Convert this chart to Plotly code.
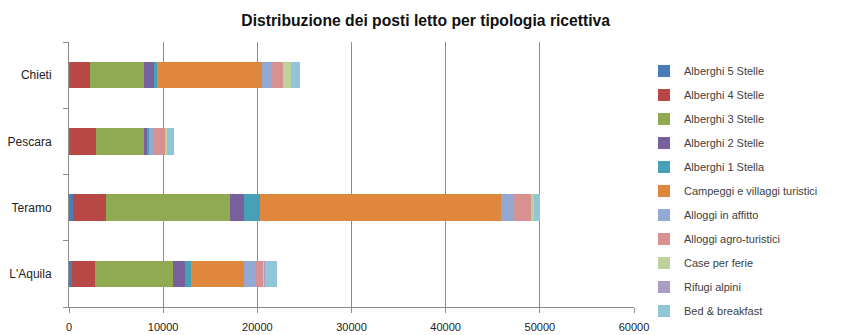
import plotly.graph_objects as go

# Provinces (bottom to top on the chart)
province = ["L'Aquila", "Teramo", "Pescara", "Chieti"]

# Bed places by accommodation type, per province (same order as above)
alberghi_5 = [280, 400, 150, 100]
alberghi_4 = [2480, 3530, 2720, 2130]
alberghi_3 = [8320, 13170, 5130, 5770]
alberghi_2 = [1250, 1530, 320, 1060]
alberghi_1 = [600, 1660, 210, 260]
campeggi = [5670, 25610, 0, 11180]
alloggi_affitto = [1240, 1240, 470, 1070]
alloggi_agro = [810, 1950, 1300, 1200]
case_ferie = [140, 250, 60, 820]
rifugi = [60, 0, 0, 0]
bed_breakfast = [1220, 700, 830, 950]

x_ticks = [0, 10000, 20000, 30000, 40000, 50000, 60000]

series = [
    ("Alberghi 5 Stelle", alberghi_5, "#4A7DB8"),
    ("Alberghi 4 Stelle", alberghi_4, "#B84845"),
    ("Alberghi 3 Stelle", alberghi_3, "#8FAA50"),
    ("Alberghi 2 Stelle", alberghi_2, "#77609B"),
    ("Alberghi 1 Stella", alberghi_1, "#45A0B8"),
    ("Campeggi e villaggi turistici", campeggi, "#E0873E"),
    ("Alloggi in affitto", alloggi_affitto, "#93A9D4"),
    ("Alloggi agro-turistici", alloggi_agro, "#D69190"),
    ("Case per ferie", case_ferie, "#BDD19A"),
    ("Rifugi alpini", rifugi, "#AA9CC4"),
    ("Bed & breakfast", bed_breakfast, "#90C6D8"),
]

fig = go.Figure()
for i, (name, vals, col) in enumerate(series):
    # legend entries are split over two boxes so the tall list keeps its spacing
    fig.add_trace(go.Bar(
        y=province, x=vals, name=name, orientation="h",
        marker=dict(color=col, line=dict(width=0)),
        legendgroup=f"g{i}",
        legend="legend" if i < 6 else "legend2",
    ))

legend_style = dict(
    xanchor="left", yanchor="top",
    traceorder="grouped", tracegroupgap=5,
    font=dict(size=11, color="#404040"),
    bgcolor="rgba(0,0,0,0)", itemwidth=30,
)

fig.update_layout(
    width=843, height=335,
    barmode="stack", bargap=0.6,
    plot_bgcolor="white", paper_bgcolor="white",
    font=dict(family="Liberation Sans, Arial, sans-serif", size=11, color="#222222"),
    margin=dict(l=69, r=209, t=42, b=28, autoexpand=False),
    title=dict(
        text="<b>Distribuzione dei posti letto per tipologia ricettiva</b>",
        x=0.505, xanchor="center", y=0.94, yanchor="middle",
        font=dict(family="Liberation Sans, Arial, sans-serif", size=15.7, color="#111111"),
    ),
    legend=dict(x=1.0177, y=0.9457, **legend_style),
    legend2=dict(x=1.0177, y=0.4023, **legend_style),
    showlegend=True,
)

fig.update_xaxes(
    range=[0, 60000], tickvals=x_ticks, ticktext=[str(v) for v in x_ticks],
    showgrid=True, gridcolor="#8C8C8C", gridwidth=1,
    showline=True, linecolor="#8C8C8C", linewidth=1,
    ticks="outside", ticklen=5, tickcolor="#8C8C8C", ticklabelstandoff=5,
    zeroline=False, tickfont=dict(size=11, color="#222222"),
)
fig.update_yaxes(
    categoryorder="array", categoryarray=province,
    showline=True, linecolor="#8C8C8C", linewidth=1,
    ticks="outside", ticklen=5, tickcolor="#8C8C8C", tickson="boundaries",
    ticklabelstandoff=14,
    showgrid=False, tickfont=dict(size=12, color="#222222"),
)

fig.write_html("out.html")
